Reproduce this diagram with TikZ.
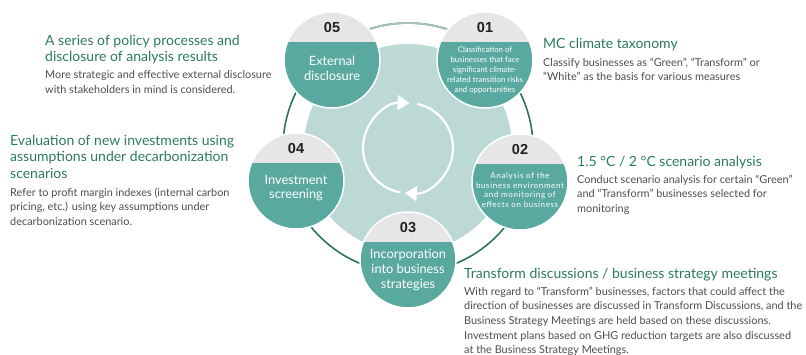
\documentclass[tikz,border=0pt]{standalone}
\usepackage{fontspec}
\setmainfont{Lato}
\newfontfamily\numfont{Liberation Sans}
\newfontfamily\spacedfont[LetterSpace=8]{Lato}
\usetikzlibrary{arrows.meta,positioning}
\definecolor{stageteal}{HTML}{5AA9A0}
\definecolor{hubtint}{HTML}{BDD9D5}
\definecolor{ringgreen}{HTML}{2B7657}
\definecolor{ringlight}{HTML}{A9C1B7}
\definecolor{capgray}{HTML}{E6E6E7}
\definecolor{headgreen}{HTML}{2C7A5E}
\definecolor{bodygray}{HTML}{4D4D4D}
\definecolor{numblack}{HTML}{231F20}

\begin{document}
\begin{tikzpicture}[
    x=1pt, y=-1pt,
    stage/.style={
        circle,
        minimum size=96pt,
        inner sep=0pt,
        fill=stageteal
    },
    numlabel/.style={
        font=\numfont\fontsize{14.5}{15}\selectfont\bfseries,
        text=numblack,
        inner sep=0pt
    },
    stagebig/.style={
        font=\fontsize{12.8}{14.8}\selectfont,
        text=white,
        align=center,
        inner sep=0pt
    },
    stagesmall/.style={
        font=\fontsize{7.8}{10}\selectfont,
        text=white,
        align=center,
        inner sep=0pt
    },
    stagespaced/.style={
        font=\spacedfont\fontsize{8}{9.8}\selectfont,
        text=white,
        align=center,
        inner sep=0pt
    },
    heading/.style={
        font=\fontsize{14}{16.3}\selectfont,
        text=headgreen,
        align=left,
        anchor=north west,
        inner sep=0pt
    },
    body/.style={
        font=\fontsize{10.9}{14.7}\selectfont,
        text=bodygray,
        align=left,
        anchor=north west,
        inner sep=0pt
    },
    cyclearrow/.style={
        -{Triangle[length=12pt,width=15pt]},
        draw=white,
        line width=2.2pt
    }
]
\useasboundingbox (0,0) rectangle (806,355);

% outer ring and hub
\coordinate (hub) at (408,148);
\draw[ringgreen, line width=1.6pt] (hub) circle[radius=125];
\draw[ringlight, line width=1.8pt] ([shift={(-130:125)}]hub) arc[start angle=-130, end angle=-50, radius=125];
\fill[hubtint] (hub) circle[radius=104];

% cycle arrows
\draw[cyclearrow] ([shift={(100:45)}]hub) arc[start angle=100, end angle=272, radius=45];
\draw[cyclearrow] ([shift={(-78:45)}]hub) arc[start angle=-78, end angle=94, radius=45];

% stages
\foreach \n/\cx/\cy/\ty/\sty/\txt in {
    05/332/60/68/stagebig/{External\\disclosure},
    01/485/60/70/stagesmall/{Classification of\\businesses that face\\significant climate-\\related transition risks\\and opportunities},
    02/520/182/190/stagespaced/{Analysis of the\\business environment\\and monitoring of\\effects on business},
    03/408/260/270/stagebig/{Incorporation\\into business\\strategies},
    04/296/181/188/stagebig/{Investment\\screening}}
{
    \node[stage] (s\n) at (\cx,\cy) {};
    \begin{scope}
        \clip (s\n.center) circle[radius=48];
        \fill[capgray] (s\n.center) ++(-50,-50) rectangle ++(100,32);
    \end{scope}
    \draw[white, line width=1.5pt] (s\n.center) circle[radius=48];
    \node[numlabel] (n\n) at (\cx,\cy-32) {\n};
    \node[\sty] (t\n) at (\cx,\ty) {\txt};
}

% notes
\node[heading] (h05) at (45,35) {A series of policy processes and\\disclosure of analysis results};
\node[body] (b05) at (45,70.5) {More strategic and effective external disclosure\\with stakeholders in mind is considered.};

\node[heading] (h04) at (10,135) {Evaluation of new investments using\\assumptions under decarbonization\\scenarios};
\node[body] (b04) at (10,187.5) {Refer to profit margin indexes (internal carbon\\pricing, etc.) using key assumptions under\\decarbonization scenario.};

\node[heading] (h01) at (543,38) {MC climate taxonomy};
\node[body] (b01) at (543,57.5) {Classify businesses as “Green”, “Transform” or\\“White” as the basis for various measures};

\node[heading] (h02) at (577,156) {1.5 °C / 2 °C scenario analysis};
\node[body] (b02) at (577,174.5) {Conduct scenario analysis for certain “Green”\\and “Transform” businesses selected for\\monitoring};

\node[heading] (h03) at (464,268) {Transform discussions / business strategy meetings};
\node[body] (b03) at (464,286.5) {With regard to “Transform” businesses, factors that could affect the\\direction of businesses are discussed in Transform Discussions, and the\\Business Strategy Meetings are held based on these discussions.\\Investment plans based on GHG reduction targets are also discussed\\at the Business Strategy Meetings.};

\end{tikzpicture}
\end{document}
